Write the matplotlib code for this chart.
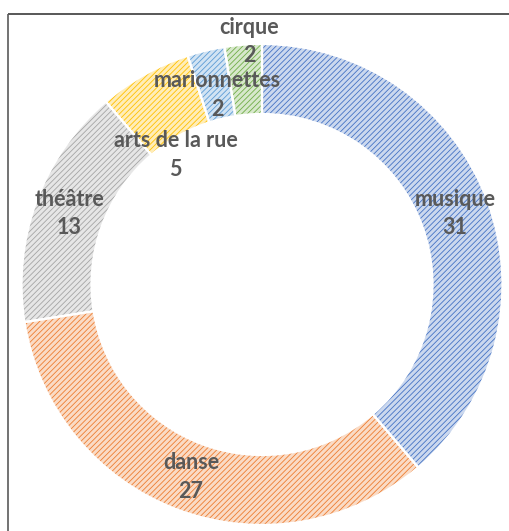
import numpy as np
import matplotlib.pyplot as plt
from matplotlib.colors import to_rgb

# données
categories = ["musique", "danse", "théâtre", "arts de la rue", "marionnettes", "cirque"]
values = [31, 27, 13, 5, 2, 2]
colors = ["#4472C4", "#ED7D31", "#A5A5A5", "#FFC000", "#5B9BD5", "#70AD47"]

# label nudges (px) for the small slices, like Excel's moved labels
label_dx = [0, 0, 0, 14, 3, 3]
label_dy = [0, 0, 0, -50, -10, 38]

W, H = 510, 531
cx, cy = 262, H - 284.5
r_out, r_in = 240.5, 170.5

plt.rcParams["hatch.linewidth"] = 0.6

fig = plt.figure(figsize=(W / 100, H / 100), dpi=100)
ax = fig.add_axes([0, 0, 1, 1])


def tint(c, a=0.72):
    r, g, b = to_rgb(c)
    return (r + (1 - r) * a, g + (1 - g) * a, b + (1 - b) * a)


# hatched fill (hatch colour comes from edgecolor)
wedges, _ = ax.pie(values, center=(cx, cy), radius=r_out, startangle=90,
                   counterclock=False,
                   wedgeprops=dict(width=r_out - r_in, linewidth=0))
for w, c in zip(wedges, colors):
    w.set_facecolor(tint(c))
    w.set_edgecolor(c)
    w.set_hatch("//////")

# white separators on top
ax.pie(values, center=(cx, cy), radius=r_out, startangle=90, counterclock=False,
       colors=["none"] * len(values),
       wedgeprops=dict(width=r_out - r_in, edgecolor="white", linewidth=1.6))

# pie() resets the limits, so set them afterwards
ax.set_xlim(0, W)
ax.set_ylim(0, H)
ax.set_aspect("equal")
ax.axis("off")

# labels in the middle of the ring
r_mid = (r_out + r_in) / 2
for w, name, v, dx, dy in zip(wedges, categories, values, label_dx, label_dy):
    ang = np.deg2rad((w.theta1 + w.theta2) / 2)
    x = cx + r_mid * np.cos(ang) + dx
    y = cy + r_mid * np.sin(ang) + dy
    ax.text(x, y, f"{name}\n{v}", ha="center", va="center", fontsize=15.5,
            fontweight="bold", family="Lato", color="#595959", linespacing=1.45)

# chart-area border (cropped: only top and left visible)
ax.plot([8, W], [H - 14, H - 14], color="#3b3b3b", lw=1.2, solid_capstyle="butt")
ax.plot([8, 8], [H - 14, 0], color="#5a5a5a", lw=1.2, solid_capstyle="butt")

fig.savefig("out.png", dpi=100)
